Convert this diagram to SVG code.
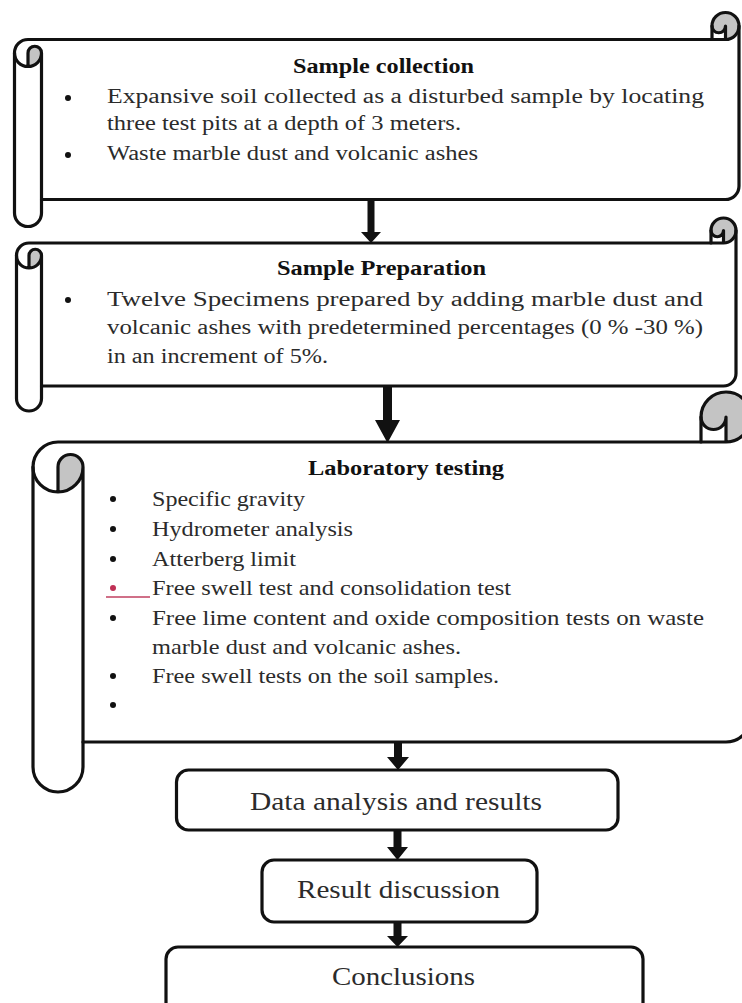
<svg xmlns="http://www.w3.org/2000/svg" width="742" height="1003" viewBox="0 0 742 1003">
<style>
.bg{fill:#fff}
.fillw{fill:#fff;stroke:none}
.shade{fill:#c4c4c4;stroke:none}
.ln{fill:none;stroke:#111;stroke-width:3.2;stroke-linejoin:round;stroke-linecap:round}
.box{fill:#fff;stroke:#111;stroke-width:3.2}
.t{font-family:"Liberation Serif","Times New Roman",serif;fill:#2b2b2b}
.b1{font-size:20px}
.b3{font-size:22px}
.ttl{font-family:"Liberation Serif","Times New Roman",serif;font-weight:bold;font-size:20px;fill:#111}
.big{font-family:"Liberation Serif","Times New Roman",serif;font-size:25px;fill:#2b2b2b}
.dot{fill:#111}
.arrow{fill:#111}
</style>
<rect class="bg" x="0" y="0" width="742" height="1003"/>

<g id="connectors">
  <polygon class="arrow" points="367.5,200 374.5,200 374.5,232 381,232 371,243 361,232 367.5,232"/>
  <polygon class="arrow" points="383,386 392,386 392,420 400,420 387.5,443 375,420 383,420"/>
  <polygon class="arrow" points="394,742 402,742 402,757 409,757 398,770 387,757 394,757"/>
  <polygon class="arrow" points="393.5,830 401.5,830 401.5,847 408,847 397.5,860 387,847 393.5,847"/>
  <polygon class="arrow" points="393.5,922 401.5,922 401.5,936 408,936 397.5,947 387,936 393.5,936"/>
</g>

<g id="sample-collection">
  <path class="fillw" d="M14.5,53 A13.5,13.5 0 0 1 28,39.5 L712,39.5 L712,26 A13.5,13.5 0 0 1 739,26 L739,186 A13.5,13.5 0 0 1 725.5,199.5 L41.5,199.5 L41.5,213 A13.5,13.5 0 0 1 14.5,213 Z"/>
  <circle class="shade" cx="725.5" cy="26" r="13.5"/>
  <path class="fillw" d="M712,26 L712,39.5 L725.5,39.5 L725.5,26 A6.75,6.75 0 0 1 712,26 Z"/>
  <path class="shade" d="M28,66.5 A13.5,13.5 0 0 0 41.5,53 A6.75,6.75 0 0 0 28,53 Z"/>
  <path class="ln" d="M14.5,53 A13.5,13.5 0 0 1 28,39.5 L712,39.5 L712,26 A13.5,13.5 0 0 1 739,26 L739,186 A13.5,13.5 0 0 1 725.5,199.5 L41.5,199.5 L41.5,213 A13.5,13.5 0 0 1 14.5,213 Z"/>
  <path class="ln" d="M712,39.5 L725.5,39.5 A13.5,13.5 0 0 0 739,26 M725.5,39.5 L725.5,26 A6.75,6.75 0 0 1 712,26 M28,66.5 L28,53 A6.75,6.75 0 0 1 41.5,53 A13.5,13.5 0 0 1 14.5,53 M41.5,53 L41.5,199.5"/>
  <text class="ttl" x="293" y="73" textLength="181" lengthAdjust="spacingAndGlyphs">Sample collection</text>
  <circle class="dot" cx="68" cy="98" r="3"/>
  <text class="t b1" x="107" y="103" textLength="597" lengthAdjust="spacingAndGlyphs">Expansive soil collected as a disturbed sample by locating</text>
  <text class="t b1" x="107" y="130" textLength="354" lengthAdjust="spacingAndGlyphs">three test pits at a depth of 3 meters.</text>
  <circle class="dot" cx="68" cy="155" r="3"/>
  <text class="t b1" x="107" y="160" textLength="371" lengthAdjust="spacingAndGlyphs">Waste marble dust and volcanic ashes</text>
</g>

<g id="sample-preparation">
  <path class="fillw" d="M16.5,255.5 A12.5,12.5 0 0 1 29,243 L711,243 L711,230.5 A12.5,12.5 0 0 1 736,230.5 L736,373.5 A12.5,12.5 0 0 1 723.5,386 L41.5,386 L41.5,398.5 A12.5,12.5 0 0 1 16.5,398.5 Z"/>
  <circle class="shade" cx="723.5" cy="230.5" r="12.5"/>
  <path class="fillw" d="M711,230.5 L711,243 L723.5,243 L723.5,230.5 A6.25,6.25 0 0 1 711,230.5 Z"/>
  <path class="shade" d="M29,268 A12.5,12.5 0 0 0 41.5,255.5 A6.25,6.25 0 0 0 29,255.5 Z"/>
  <path class="ln" d="M16.5,255.5 A12.5,12.5 0 0 1 29,243 L711,243 L711,230.5 A12.5,12.5 0 0 1 736,230.5 L736,373.5 A12.5,12.5 0 0 1 723.5,386 L41.5,386 L41.5,398.5 A12.5,12.5 0 0 1 16.5,398.5 Z"/>
  <path class="ln" d="M711,243 L723.5,243 A12.5,12.5 0 0 0 736,230.5 M723.5,243 L723.5,230.5 A6.25,6.25 0 0 1 711,230.5 M29,268 L29,255.5 A6.25,6.25 0 0 1 41.5,255.5 A12.5,12.5 0 0 1 16.5,255.5 M41.5,255.5 L41.5,386"/>
  <text class="ttl" x="277" y="275" textLength="209" lengthAdjust="spacingAndGlyphs">Sample Preparation</text>
  <circle class="dot" cx="68" cy="300" r="3"/>
  <text class="t b1" x="107" y="306" textLength="596" lengthAdjust="spacingAndGlyphs">Twelve Specimens prepared by adding marble dust and</text>
  <text class="t b1" x="107" y="334" textLength="596" lengthAdjust="spacingAndGlyphs">volcanic ashes with predetermined percentages (0 % -30 %)</text>
  <text class="t b1" x="107" y="363" textLength="221" lengthAdjust="spacingAndGlyphs">in an increment of 5%.</text>
</g>

<g id="laboratory-testing">
  <path class="fillw" d="M33,467 A25,25 0 0 1 58,442 L701,442 L701,417 A25,25 0 0 1 751,417 L751,717 A25,25 0 0 1 726,742 L83,742 L83,767 A25,25 0 0 1 33,767 Z"/>
  <circle class="shade" cx="726" cy="417" r="25"/>
  <path class="fillw" d="M701,417 L701,442 L726,442 L726,417 A12.5,12.5 0 0 1 701,417 Z"/>
  <path class="shade" d="M58,492 A25,25 0 0 0 83,467 A12.5,12.5 0 0 0 58,467 Z"/>
  <path class="ln" d="M33,467 A25,25 0 0 1 58,442 L701,442 L701,417 A25,25 0 0 1 751,417 L751,717 A25,25 0 0 1 726,742 L83,742 L83,767 A25,25 0 0 1 33,767 Z"/>
  <path class="ln" d="M701,442 L726,442 A25,25 0 0 0 751,417 M726,442 L726,417 A12.5,12.5 0 0 1 701,417 M58,492 L58,467 A12.5,12.5 0 0 1 83,467 A25,25 0 0 1 33,467 M83,467 L83,742"/>
  <text class="ttl" x="308" y="475" textLength="196" lengthAdjust="spacingAndGlyphs">Laboratory testing</text>
  <circle class="dot" cx="113" cy="499" r="3"/>
  <text class="t b3" x="152" y="506" textLength="153" lengthAdjust="spacingAndGlyphs">Specific gravity</text>
  <circle class="dot" cx="113" cy="529" r="3"/>
  <text class="t b3" x="152" y="536" textLength="201" lengthAdjust="spacingAndGlyphs">Hydrometer analysis</text>
  <circle class="dot" cx="113" cy="559" r="3"/>
  <text class="t b3" x="152" y="566" textLength="144" lengthAdjust="spacingAndGlyphs">Atterberg limit</text>
  <circle cx="113" cy="588" r="3" fill="#c03055"/>
  <line x1="106" y1="597" x2="150" y2="597" stroke="#c04060" stroke-width="1.5"/>
  <text class="t b3" x="152" y="595" textLength="359" lengthAdjust="spacingAndGlyphs">Free swell test and consolidation test</text>
  <circle class="dot" cx="113" cy="618" r="3"/>
  <text class="t b3" x="152" y="625" textLength="552" lengthAdjust="spacingAndGlyphs">Free lime content and oxide composition tests on waste</text>
  <text class="t b3" x="152" y="654" textLength="309" lengthAdjust="spacingAndGlyphs">marble dust and volcanic ashes.</text>
  <circle class="dot" cx="113" cy="676" r="3"/>
  <text class="t b3" x="152" y="683" textLength="347" lengthAdjust="spacingAndGlyphs">Free swell tests on the soil samples.</text>
  <circle class="dot" cx="113" cy="705" r="3"/>
</g>

<g id="data-analysis">
  <rect class="box" x="176.5" y="770" width="441.5" height="60" rx="12"/>
  <text class="big" x="250" y="810" textLength="292" lengthAdjust="spacingAndGlyphs">Data analysis and results</text>
</g>

<g id="result-discussion">
  <rect class="box" x="262" y="860" width="275" height="62" rx="12"/>
  <text class="big" x="297" y="898" textLength="203" lengthAdjust="spacingAndGlyphs">Result discussion</text>
</g>

<g id="conclusions">
  <rect class="box" x="166" y="947" width="477" height="70" rx="12"/>
  <text class="big" x="332" y="985" textLength="143" lengthAdjust="spacingAndGlyphs">Conclusions</text>
</g>
</svg>
